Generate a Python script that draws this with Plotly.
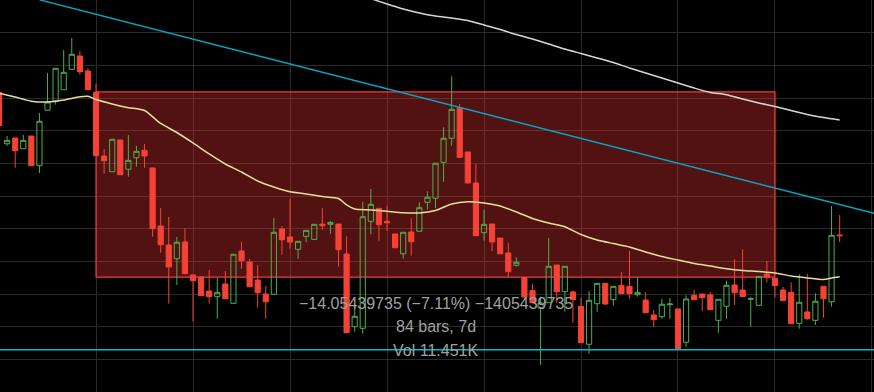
import plotly.graph_objects as go

# ---- data ----
bar_index = list(range(105))

open_ = [192.94, 189.01, 189.45, 188.63, 189.60, 187.33, 191.57, 192.26, 193.14, 194.70,
         195.72, 194.57, 192.94, 188.07, 186.87, 189.30, 187.06, 187.94, 188.51, 187.16,
         182.72, 181.27, 180.22, 181.50, 178.98, 178.82, 177.75, 177.32, 178.29, 176.81,
         180.81, 179.97, 178.59, 177.52, 177.50, 182.49, 181.88, 180.94, 181.93, 181.70,
         182.87, 182.85, 182.87, 180.58, 175.02, 174.90, 183.08, 184.07, 183.08, 182.11,
         180.60, 182.26, 182.32, 184.53, 184.84, 187.59, 189.43, 191.74, 188.38, 186.01,
         182.21, 182.87, 181.80, 180.66, 179.72, 178.78, 177.78, 176.45, 176.86, 179.74,
         177.70, 177.68, 176.58, 173.68, 176.78, 178.34, 177.09, 178.19, 178.11, 177.47,
         177.06, 175.92, 175.79, 176.70, 176.38, 173.83, 177.42, 177.52, 177.45, 175.51,
         176.58, 178.21, 177.83, 177.12, 176.66, 179.05, 178.72, 177.83, 177.65, 175.28,
         176.15, 175.51, 178.11, 176.93, 182.03]
high = [192.97, 189.60, 189.45, 189.68, 189.60, 191.36, 194.42, 194.78, 196.18, 197.09,
        196.10, 194.78, 193.63, 188.61, 189.35, 189.30, 189.68, 188.84, 188.99, 187.16,
        184.10, 183.41, 181.88, 182.57, 178.98, 178.90, 179.36, 178.75, 179.28, 180.56,
        181.50, 180.20, 179.74, 178.13, 183.33, 182.72, 184.79, 181.55, 182.39, 182.85,
        184.10, 183.10, 182.87, 181.93, 176.76, 184.56, 185.55, 184.07, 184.27, 182.11,
        182.24, 183.31, 184.53, 185.37, 187.52, 190.27, 194.17, 192.05, 188.38, 187.46,
        183.95, 182.87, 181.80, 181.45, 180.33, 178.78, 178.29, 177.32, 181.80, 179.74,
        179.64, 177.78, 177.24, 177.75, 178.34, 178.34, 178.11, 179.20, 180.81, 178.80,
        177.68, 176.30, 177.14, 177.22, 176.38, 177.42, 177.83, 177.52, 177.68, 177.12,
        178.54, 180.18, 180.94, 177.29, 178.85, 180.05, 178.72, 178.06, 178.42, 179.03,
        179.05, 177.58, 178.11, 184.25, 183.56]
low = [190.37, 188.86, 187.18, 188.63, 187.33, 186.77, 191.57, 192.00, 193.14, 194.70,
       194.29, 193.14, 188.10, 186.72, 186.87, 186.64, 186.49, 187.26, 187.18, 181.90,
       180.68, 176.78, 178.21, 179.08, 175.41, 177.39, 176.78, 175.63, 177.16, 176.81,
       179.46, 178.08, 176.48, 175.63, 177.50, 180.53, 180.99, 180.22, 181.48, 181.70,
       182.44, 182.13, 179.61, 174.56, 174.64, 174.49, 182.09, 181.60, 182.34, 181.06,
       180.22, 180.45, 182.32, 184.00, 184.10, 186.11, 188.86, 187.97, 186.01, 181.98,
       181.60, 180.81, 180.60, 178.80, 179.61, 177.29, 176.86, 172.10, 176.86, 176.86,
       176.17, 175.33, 173.80, 172.96, 176.17, 176.68, 176.63, 177.55, 177.16, 177.32,
       176.09, 175.00, 175.63, 175.63, 173.32, 173.49, 177.09, 176.22, 176.32, 174.56,
       175.63, 176.68, 177.32, 175.00, 176.66, 178.39, 177.24, 177.01, 175.25, 174.87,
       175.56, 175.15, 175.71, 176.55, 181.50]
close = [190.39, 189.27, 188.48, 189.27, 187.33, 190.73, 192.20, 194.78, 194.47, 195.85,
         194.52, 193.14, 188.10, 187.71, 189.35, 186.64, 187.74, 188.43, 188.07, 182.52,
         181.29, 179.59, 181.48, 179.08, 178.54, 177.39, 177.32, 177.65, 177.16, 180.56,
         180.07, 178.08, 177.62, 176.93, 182.24, 181.67, 181.50, 181.55, 182.39, 182.85,
         182.74, 183.00, 180.91, 174.56, 175.82, 183.43, 184.38, 182.82, 182.97, 181.06,
         182.24, 181.52, 184.12, 184.92, 187.52, 189.43, 191.64, 187.97, 186.01, 181.98,
         182.85, 181.50, 180.60, 179.23, 179.95, 177.29, 176.86, 176.83, 179.64, 177.70,
         179.64, 177.09, 173.80, 177.04, 178.34, 176.76, 178.11, 177.55, 177.55, 177.65,
         176.09, 175.56, 176.74, 176.76, 173.32, 177.14, 177.09, 177.24, 176.32, 177.12,
         178.19, 177.62, 177.32, 177.16, 178.85, 178.80, 178.16, 177.01, 175.25, 176.89,
         175.63, 176.97, 177.16, 182.01, 181.98]

ma_short_x = [0, 2, 4, 6, 8, 10, 11, 12, 14, 16, 18, 20, 22, 24, 26, 28, 30, 32, 34, 36,
              38, 40, 42, 43, 44, 46, 48, 50, 52, 54, 56, 58, 60, 62, 64, 66, 68, 70, 72, 74,
              76, 78, 80, 82, 84, 86, 88, 90, 92, 94, 96, 98, 100, 102, 103, 104]
ma_short = [192.87, 192.58, 192.26, 192.20, 192.35, 192.61, 192.64, 192.39, 192.05, 191.77,
            191.55, 190.56, 189.87, 189.07, 188.23, 187.46, 186.85, 186.16, 185.70, 185.34,
            185.17, 184.98, 184.82, 184.33, 184.02, 183.95, 183.85, 183.74, 183.72, 183.91,
            184.40, 184.58, 184.48, 184.25, 183.79, 183.30, 182.95, 182.67, 182.07, 181.65,
            181.38, 181.12, 180.73, 180.39, 180.12, 179.85, 179.66, 179.46, 179.32, 179.24,
            179.13, 178.90, 178.75, 178.63, 178.75, 178.85]

ma_long_x = list(range(46, 105, 2))
ma_long = [200.11, 199.69, 199.31, 199.01, 198.78, 198.62, 198.43, 198.09, 197.74, 197.36,
           197.02, 196.64, 196.25, 195.91, 195.57, 195.22, 194.80, 194.42, 194.04, 193.65,
           193.27, 192.93, 192.76, 192.43, 192.13, 191.86, 191.55, 191.25, 191.02, 190.83]

trend_x = [5, 109]
trend_y = [200.01, 183.57]
level_y = 173.26

range_start, range_end = 12, 96
range_top, range_bottom = 192.97, 178.82

label_lines = ["\u221214.05439735 (\u22127.11%) \u22121405439735", "84 bars, 7d", "Vol 11.451K"]
label_y = [176.80, 175.00, 173.24]

# ---- figure ----
RED = "#f44336"
GREEN = "#4caf50"

fig = go.Figure()
fig.add_trace(go.Candlestick(
    x=bar_index, open=open_, high=high, low=low, close=close,
    increasing=dict(line=dict(color=GREEN, width=1), fillcolor="rgba(0,0,0,0)"),
    decreasing=dict(line=dict(color=RED, width=1), fillcolor=RED),
    whiskerwidth=0, hoverinfo="skip", showlegend=False,
))
fig.add_trace(go.Scatter(x=ma_short_x, y=ma_short, mode="lines",
                         line=dict(color="#e9dca0", width=1.5, shape="spline", smoothing=0.6),
                         hoverinfo="skip", showlegend=False))
fig.add_trace(go.Scatter(x=ma_long_x, y=ma_long, mode="lines",
                         line=dict(color="#d6d6d6", width=1.5, shape="spline", smoothing=0.6),
                         hoverinfo="skip", showlegend=False))
fig.add_trace(go.Scatter(x=trend_x, y=trend_y, mode="lines",
                         line=dict(color="#00a9c4", width=1.5),
                         hoverinfo="skip", showlegend=False))

fig.add_shape(type="rect", xref="x", yref="y", x0=range_start, x1=range_end,
              y0=range_bottom, y1=range_top, layer="between",
              line=dict(color="#f23a3a", width=1.2),
              fillcolor="rgba(242,54,54,0.34)")
fig.add_shape(type="line", xref="paper", yref="y", x0=0, x1=1, y0=level_y, y1=level_y,
              line=dict(color="#00bcd4", width=1.6), layer="above")

for txt, yy in zip(label_lines, label_y):
    fig.add_annotation(x=(range_start + range_end) / 2, y=yy, text=txt, showarrow=False,
                       xanchor="center", yanchor="middle",
                       font=dict(family="Liberation Sans, Arial, sans-serif", size=16, color="#a0a0a0"))

fig.update_layout(
    width=874, height=392, margin=dict(l=0, r=0, t=0, b=0),
    paper_bgcolor="#000000", plot_bgcolor="#000000",
    boxgap=0.2, boxgroupgap=0.2,
    showlegend=False, hovermode=False,
    xaxis=dict(range=[0.12, 108.25], showticklabels=False, ticks="", zeroline=False,
               showline=False, showgrid=True, gridcolor="#2a2a2a", gridwidth=1,
               tick0=0, dtick=12, rangeslider=dict(visible=False)),
    yaxis=dict(range=[170.03, 200.0], showticklabels=False, ticks="", zeroline=False,
               showline=False, showgrid=True, gridcolor="#2a2a2a", gridwidth=1,
               tick0=0, dtick=2.5),
)

fig.write_html("out.html")
